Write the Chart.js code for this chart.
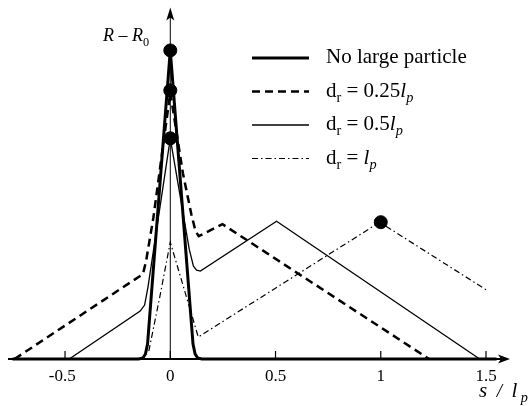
<!DOCTYPE html>
<html>
<head>
<meta charset="utf-8">
<script src="https://cdn.jsdelivr.net/npm/chart.js@4.4.1/dist/chart.umd.min.js"></script>
<style>
  html, body { margin: 0; padding: 0; background: #fff; }
  #grafico { display: block; }
</style>
</head>
<body>
<canvas id="grafico" width="532" height="406"></canvas>
<script>
// curva sem particula grande
const noneS = [-0.75, -0.15, -0.13, -0.118, -0.108, 0, 0.108, 0.118, 0.13, 0.15, 1.55]
const noneR = [0, 0, 0.01, 0.05, 0.15, 3.09, 0.15, 0.05, 0.01, 0, 0]

// d_r = 0.25 l_p
const quarterS = [-0.74, -0.13, -0.115, -0.08, 0, 0.06, 0.1, 0.12, 0.135, 0.248, 1.23]
const quarterR = [0, 0.85, 0.98, 1.42, 2.67, 1.86, 1.45, 1.28, 1.23, 1.35, 0]

// d_r = 0.5 l_p
const halfS = [-0.48, -0.143, -0.122, -0.106, 0, 0.09, 0.11, 0.125, 0.143, 0.505, 1.47]
const halfR = [0, 0.48, 0.54, 0.72, 2.21, 1.1, 0.93, 0.89, 0.88, 1.38, 0]

// d_r = l_p
const fullS = [-0.102, -0.05, 0, 0.133, 0.995, 1.51]
const fullR = [0.08, 0.62, 1.17, 0.22, 1.37, 0.68]

// pontos marcados
const markerS = [0, 0, 0, 1]
const markerR = [3.09, 2.69, 2.21, 1.37]

// eixo x
const tickVals = [-0.5, 0, 0.5, 1, 1.5]
const tickLabels = ['-0.5', '0', '0.5', '1', '1.5']

const serif = '"Liberation Serif", "DejaVu Serif", serif'

function pts(xs, ys) {
  return xs.map((x, i) => ({ x: x, y: ys[i] }))
}

// escreve texto com italico / subscrito
function richText(ctx, parts, x, y) {
  parts.forEach((p) => {
    const size = p.sub ? p.size * 0.68 : p.size
    ctx.font = (p.italic ? 'italic ' : '') + size + 'px ' + serif
    ctx.fillText(p.t, x, y + (p.sub ? p.size * 0.25 : 0))
    x += ctx.measureText(p.t).width
  })
}

const legendRows = [
  { dash: [], width: 3, parts: [{ t: 'No large particle', size: 21 }] },
  { dash: [8, 5], width: 2.5, parts: [
    { t: 'd', size: 21 }, { t: 'r', size: 21, sub: true }, { t: ' = 0.25', size: 21 },
    { t: 'l', size: 21, italic: true }, { t: 'p', size: 21, italic: true, sub: true }] },
  { dash: [], width: 1.3, parts: [
    { t: 'd', size: 21 }, { t: 'r', size: 21, sub: true }, { t: ' = 0.5', size: 21 },
    { t: 'l', size: 21, italic: true }, { t: 'p', size: 21, italic: true, sub: true }] },
  { dash: [6, 3, 1.5, 3], width: 1.2, parts: [
    { t: 'd', size: 21 }, { t: 'r', size: 21, sub: true }, { t: ' = ', size: 21 },
    { t: 'l', size: 21, italic: true }, { t: 'p', size: 21, italic: true, sub: true }] },
]

const eixos = {
  id: 'eixos',
  beforeDatasetsDraw(chart) {
    const ctx = chart.ctx
    const a = chart.chartArea
    const x0 = chart.scales.x.getPixelForValue(0)
    const yb = chart.scales.y.getPixelForValue(0)
    ctx.save()
    ctx.strokeStyle = '#000'
    ctx.fillStyle = '#000'
    // eixo x
    ctx.lineWidth = 2
    ctx.beginPath()
    ctx.moveTo(a.left, yb)
    ctx.lineTo(a.right - 6, yb)
    ctx.stroke()
    ctx.beginPath()
    ctx.moveTo(a.right, yb)
    ctx.lineTo(a.right - 12, yb - 4.5)
    ctx.lineTo(a.right - 9, yb)
    ctx.lineTo(a.right - 12, yb + 4.5)
    ctx.closePath()
    ctx.fill()
    // eixo y
    ctx.lineWidth = 1
    ctx.beginPath()
    ctx.moveTo(x0, yb)
    ctx.lineTo(x0, a.top + 6)
    ctx.stroke()
    ctx.beginPath()
    ctx.moveTo(x0, a.top)
    ctx.lineTo(x0 - 4, a.top + 13)
    ctx.lineTo(x0, a.top + 10)
    ctx.lineTo(x0 + 4, a.top + 13)
    ctx.closePath()
    ctx.fill()
    // ticks
    ctx.lineWidth = 1.2
    ctx.font = '17px ' + serif
    ctx.textBaseline = 'alphabetic'
    tickVals.forEach((v, i) => {
      const px = chart.scales.x.getPixelForValue(v)
      ctx.beginPath()
      ctx.moveTo(px, yb)
      ctx.lineTo(px, yb - 8)
      ctx.stroke()
      let lab = tickLabels[i]
      if (lab[0] === '-') {
        const w = ctx.measureText(lab.slice(1)).width
        ctx.textAlign = 'right'
        ctx.fillText(lab, px + w / 2, yb + 22)
      } else {
        ctx.textAlign = 'center'
        ctx.fillText(lab, px, yb + 22)
      }
    })
    ctx.restore()
  },
  afterDatasetsDraw(chart) {
    const ctx = chart.ctx
    ctx.save()
    ctx.fillStyle = '#000'
    ctx.strokeStyle = '#000'
    ctx.textAlign = 'left'
    ctx.textBaseline = 'alphabetic'
    // titulo do eixo y
    richText(ctx, [
      { t: 'R', size: 18, italic: true }, { t: ' \u2013 ', size: 18 },
      { t: 'R', size: 18, italic: true }, { t: '0', size: 18, sub: true }], 103, 41)
    // titulo do eixo x
    richText(ctx, [
      { t: 's', size: 21, italic: true }, { t: '  /  ', size: 19, italic: true },
      { t: 'l', size: 21, italic: true }, { t: ' p', size: 21, italic: true, sub: true }], 479, 397)
    // legenda
    legendRows.forEach((row, i) => {
      const y = 58 + i * 33.5
      ctx.lineWidth = row.width
      ctx.setLineDash(row.dash)
      ctx.beginPath()
      ctx.moveTo(252, y)
      ctx.lineTo(309, y)
      ctx.stroke()
      ctx.setLineDash([])
      richText(ctx, row.parts, 326, y + 5)
    })
    ctx.restore()
  }
}

new Chart(document.getElementById('grafico').getContext('2d'), {
  type: 'scatter',
  data: {
    datasets: [
      { label: 'dr = lp', data: pts(fullS, fullR), showLine: true, borderColor: '#000', borderWidth: 1.2,
        borderDash: [6, 3, 1.5, 3], pointRadius: 0, tension: 0, clip: false },
      { label: 'dr = 0.5lp', data: pts(halfS, halfR), showLine: true, borderColor: '#000', borderWidth: 1.3,
        pointRadius: 0, tension: 0, clip: false },
      { label: 'dr = 0.25lp', data: pts(quarterS, quarterR), showLine: true, borderColor: '#000', borderWidth: 2.5,
        borderDash: [8, 5], pointRadius: 0, tension: 0, clip: false },
      { label: 'No large particle', data: pts(noneS, noneR), showLine: true, borderColor: '#000', borderWidth: 3,
        pointRadius: 0, tension: 0, clip: false },
      { label: 'marcas', data: pts(markerS, markerR), showLine: false, pointRadius: 6.5,
        pointBackgroundColor: '#000', pointBorderColor: '#000', clip: false },
    ]
  },
  options: {
    responsive: false,
    devicePixelRatio: 1,
    animation: false,
    layout: { padding: { left: 8, right: 22, top: 7, bottom: 47 } },
    plugins: { legend: { display: false }, tooltip: { enabled: false } },
    scales: {
      x: { type: 'linear', min: -0.771, max: 1.614, display: false },
      y: { type: 'linear', min: 0, max: 3.52, display: false }
    }
  },
  plugins: [eixos]
})
</script>
</body>
</html>
